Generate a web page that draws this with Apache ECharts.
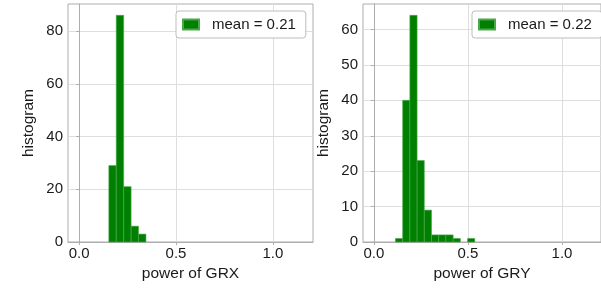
<!DOCTYPE html>
<html>
<head>
<meta charset="utf-8">
<script src="https://cdn.jsdelivr.net/npm/echarts@6/dist/echarts.min.js"></script>
<style>html,body{margin:0;padding:0;background:#fff;}#c{width:601px;height:288px;}</style>
</head>
<body>
<div id="c"></div>
<script>
// Histogram bins: 30 bins over [0, 1.15]
const binCount = 30;
const binRangeMax = 1.15;
const countsGRX = [0,0,0,0,29,86,21,6,3,0,0,0,0,0,0,0,0,0,0,0,0,0,0,0,0,0,0,0,0,0];
const countsGRY = [0,0,0,1,40,64,23,9,2,2,2,1,0,1,0,0,0,0,0,0,0,0,0,0,0,0,0,0,0,0];
const meanGRX = 0.21;
const meanGRY = 0.22;
const xLabelsGRX = 'power of GRX';
const xLabelsGRY = 'power of GRY';
const xTicks = [0, 0.5, 1.0];
const yTicksGRX = [0, 20, 40, 60, 80];
const yTicksGRY = [0, 10, 20, 30, 40, 50, 60];

const binW = binRangeMax / binCount;
function toData(counts){
  const out = [];
  counts.forEach((c, i) => { if (c > 0) out.push([i * binW, (i + 1) * binW, c]); });
  return out;
}
const xMin = -0.05 * binRangeMax, xMax = binRangeMax * 1.05;

const FONT = 'Liberation Sans, Arial, sans-serif';
const GRID_C = '#dedede';
const SPINE_C = '#adadad';
const TXT_C = '#1a1a1a';

function renderBar(params, api){
  const s = api.coord([api.value(0), 0]);
  const e = api.coord([api.value(1), api.value(2)]);
  return {
    type: 'rect',
    shape: {x: s[0], y: e[1], width: e[0] - s[0], height: s[1] - e[1]},
    style: api.style()
  };
}

function xAxis(idx, name){
  return {
    type: 'value', gridIndex: idx, min: xMin, max: xMax,
    name: name, nameLocation: 'middle', nameGap: 23,
    nameTextStyle: {fontFamily: FONT, fontSize: 15.5, color: TXT_C},
    axisLine: {show: true, lineStyle: {color: SPINE_C}},
    axisTick: {show: true, length: 3, lineStyle: {color: SPINE_C}, customValues: xTicks},
    axisLabel: {fontFamily: FONT, fontSize: 15, color: TXT_C, margin: 4, customValues: xTicks,
      formatter: v => v.toFixed(1)},
    splitLine: {show: true, lineStyle: {color: GRID_C}}
  };
}
function yAxis(idx, max, ticks){
  return {
    type: 'value', gridIndex: idx, min: 0, max: max,
    name: 'histogram', nameLocation: 'middle', nameGap: 31,
    nameTextStyle: {fontFamily: FONT, fontSize: 15.5, color: TXT_C},
    axisLine: {show: true, lineStyle: {color: SPINE_C}},
    axisTick: {show: true, length: 3, lineStyle: {color: SPINE_C}, customValues: ticks},
    axisLabel: {fontFamily: FONT, fontSize: 15, color: TXT_C, margin: 5, customValues: ticks},
    splitLine: {show: true, lineStyle: {color: GRID_C}}
  };
}

const chart = echarts.init(document.getElementById('c'), null, {renderer: 'canvas'});
const maxGRX = Math.max(...countsGRX), maxGRY = Math.max(...countsGRY);
chart.setOption({
  animation: false,
  backgroundColor: '#fff',
  grid: [
    {left: 68, top: 4, width: 245, height: 238, show: true, borderColor: SPINE_C, borderWidth: 1, backgroundColor: 'transparent'},
    {left: 363, top: 4, width: 247, height: 238, show: true, borderColor: SPINE_C, borderWidth: 1, backgroundColor: 'transparent'}
  ],
  xAxis: [xAxis(0, xLabelsGRX), xAxis(1, xLabelsGRY)],
  yAxis: [yAxis(0, maxGRX * 1.05, yTicksGRX), yAxis(1, maxGRY * 1.05, yTicksGRY)],
  legend: [
    {data: ['mean = ' + meanGRX.toFixed(2)], left: 176, top: 11, orient: 'vertical',
     icon: 'rect', itemWidth: 16, itemHeight: 10, padding: [6, 10, 6, 6],
     borderColor: '#bdbdbd', borderWidth: 1, borderRadius: 3, backgroundColor: '#fff',
     textStyle: {fontFamily: FONT, fontSize: 15, color: TXT_C, padding: [0, 0, 0, 8]}},
    {data: ['mean = ' + meanGRY.toFixed(2)], left: 472, top: 11, orient: 'vertical',
     icon: 'rect', itemWidth: 16, itemHeight: 10, padding: [6, 10, 6, 6],
     borderColor: '#bdbdbd', borderWidth: 1, borderRadius: 3, backgroundColor: '#fff',
     textStyle: {fontFamily: FONT, fontSize: 15, color: TXT_C, padding: [0, 0, 0, 8]}}
  ],
  series: [
    {type: 'custom', name: 'mean = ' + meanGRX.toFixed(2), xAxisIndex: 0, yAxisIndex: 0,
     renderItem: renderBar, data: toData(countsGRX), encode: {x: [0, 1], y: 2},
     itemStyle: {color: '#008000', borderColor: '#4da64d', borderWidth: 0.6}},
    {type: 'custom', name: 'mean = ' + meanGRY.toFixed(2), xAxisIndex: 1, yAxisIndex: 1,
     renderItem: renderBar, data: toData(countsGRY), encode: {x: [0, 1], y: 2},
     itemStyle: {color: '#008000', borderColor: '#4da64d', borderWidth: 0.6}}
  ]
});
</script>
</body>
</html>
